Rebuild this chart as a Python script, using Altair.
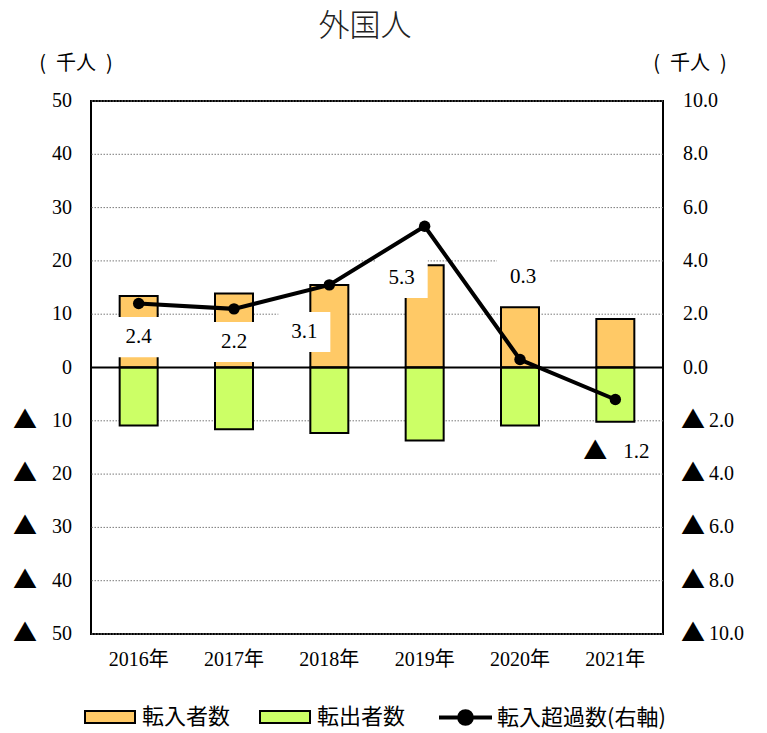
import altair as alt
import pandas as pd

# ---- data ----
years = ["2016年", "2017年", "2018年", "2019年", "2020年", "2021年"]
inflow = [13.4, 13.9, 15.5, 19.2, 11.3, 9.1]      # 転入者数 (千人)
outflow = [10.9, 11.6, 12.3, 13.7, 10.9, 10.2]    # 転出者数 (千人)
net = [2.4, 2.2, 3.1, 5.3, 0.3, -1.2]             # 転入超過数 (千人, 右軸)
left_ticks = [-50, -40, -30, -20, -10, 0, 10, 20, 30, 40, 50]
right_ticks = [-10, -8, -6, -4, -2, 0, 2, 4, 6, 8, 10]
chart_title = "外国人"
unit_text = "(\u2002千人\u2002)"
TRI = "▲"

# label placement (right-axis units) and horizontal nudges in px
label_y = [1.14, 0.96, 1.33, 3.36, 3.39, -3.17]
label_dx = [0, 0, -25, -23, 3, 21]
tri_dx = [0, 0, 0, 0, 0, -20]
label_box = [1, 1, 1, 1, 1, 0]

W, H = 572, 533
FONT = "Liberation Serif, Noto Sans CJK JP"
JFONT = "Noto Sans CJK JP"
HALF = W / 12  # half of a category band

bars_df = pd.DataFrame({
    "year": years * 2,
    "type": ["転入者数"] * 6 + ["転出者数"] * 6,
    "value": inflow + [-v for v in outflow],
})
line_df = pd.DataFrame({"year": years, "net": net, "series": ["転入超過数(右軸)"] * 6})
lab_df = pd.DataFrame({
    "year": years, "net": net, "ly": label_y,
    "off": [d + HALF for d in label_dx],
    "toff": [d + HALF for d in tri_dx],
    "box": label_box,
})
lt_df = pd.DataFrame({"v": left_ticks})
rt_df = pd.DataFrame({"v": right_ticks})
yr_df = pd.DataFrame({"year": years})

x_scale = alt.Scale(paddingInner=0, paddingOuter=0)
lscale = alt.Scale(domain=[-50, 50], nice=False)
rscale = alt.Scale(domain=[-10, 10], nice=False)


def X():
    return alt.X("year:N", sort=years, title=None, scale=x_scale, axis=None)


# ---------- left-scale layer ----------
grid = alt.Chart(lt_df).transform_filter("datum.v != 0").mark_rule(
    color="#7a7a7a", strokeWidth=1, strokeDash=[1.5, 1.5]).encode(
    y=alt.Y("v:Q", scale=lscale, axis=None))

bars = alt.Chart(bars_df).mark_bar(width=38, stroke="black", strokeWidth=2).encode(
    x=X(),
    y=alt.Y("value:Q", scale=lscale, axis=None, stack=None),
    fill=alt.Fill("type:N",
                  scale=alt.Scale(domain=["転入者数", "転出者数"], range=["#FFC966", "#CCFF66"]),
                  legend=alt.Legend(
                      title=None, orient="none", legendX=-7, legendY=590,
                      direction="horizontal", padding=0,
                      symbolType="M-1,-0.24L1,-0.24L1,0.24L-1,0.24Z", symbolSize=2500,
                      symbolStrokeColor="black", symbolStrokeWidth=2,
                      labelFont=JFONT, labelFontSize=22, labelColor="black",
                      labelOffset=6, columnPadding=25, labelLimit=300,
                  )),
)
zero = alt.Chart(lt_df).transform_filter("datum.v == 0").mark_rule(
    color="black", strokeWidth=2).encode(y=alt.Y("v:Q", scale=lscale, axis=None))

left_labels = alt.Chart(lt_df).transform_calculate(
    t="format(abs(datum.v), 'd')"
).mark_text(font=FONT, fontSize=20, color="black", align="right", baseline="middle").encode(
    x=alt.value(-19), y=alt.Y("v:Q", scale=lscale, axis=None), text="t:N")
left_tri = alt.Chart(lt_df).transform_filter("datum.v < 0").transform_calculate(
    t=f"'{TRI}'"
).mark_text(font=JFONT, fontSize=24, color="black", baseline="middle").encode(
    x=alt.value(-66), y=alt.Y("v:Q", scale=lscale, axis=None), text="t:N")

left_layer = alt.layer(grid, bars, zero, left_labels, left_tri)

# ---------- right-scale layer ----------
right_labels = alt.Chart(rt_df).transform_calculate(
    t="format(abs(datum.v), '.1f')", px=f"datum.v < 0 ? {W + 46} : {W + 20}"
).mark_text(font=FONT, fontSize=20, color="black", align="left", baseline="middle").encode(
    x=alt.X("px:Q", scale=None), y=alt.Y("v:Q", scale=rscale, axis=None), text="t:N")
right_tri = alt.Chart(rt_df).transform_filter("datum.v < 0").transform_calculate(
    t=f"'{TRI}'"
).mark_text(font=JFONT, fontSize=24, color="black", baseline="middle").encode(
    x=alt.value(W + 30), y=alt.Y("v:Q", scale=rscale, axis=None), text="t:N")

boxes = alt.Chart(lab_df).transform_filter("datum.box == 1").mark_point(
    shape="M-1,-0.77L1,-0.77L1,0.77L-1,0.77Z", size=2704, filled=True,
    color="white", opacity=1,
).encode(x=X(), y=alt.Y("ly:Q", scale=rscale, axis=None),
         xOffset=alt.XOffset("off:Q", scale=None))
nums = alt.Chart(lab_df).transform_calculate(
    t="format(abs(datum.net), '.1f')"
).mark_text(font=FONT, fontSize=21, color="black", baseline="middle").encode(
    x=X(), y=alt.Y("ly:Q", scale=rscale, axis=None),
    xOffset=alt.XOffset("off:Q", scale=None), text="t:N")
num_tri = alt.Chart(lab_df).transform_filter("datum.net < 0").transform_calculate(
    t=f"'{TRI}'"
).mark_text(font=JFONT, fontSize=24, color="black", baseline="middle").encode(
    x=X(), y=alt.Y("ly:Q", scale=rscale, axis=None),
    xOffset=alt.XOffset("toff:Q", scale=None), text="t:N")

line = alt.Chart(line_df).mark_line(strokeWidth=4).encode(
    x=X(),
    y=alt.Y("net:Q", scale=rscale, axis=None),
    stroke=alt.Stroke("series:N", scale=alt.Scale(range=["black"]),
                      legend=alt.Legend(
                          title=None, orient="none", legendX=346, legendY=588, padding=0,
                          symbolType="M-1,0L1,0M-0.24,0A0.24,0.24 0 1 1 0.24,0A0.24,0.24 0 1 1 -0.24,0Z",
                          symbolSize=2809, symbolStrokeWidth=4, symbolStrokeColor="black",
                          symbolFillColor="black", labelLimit=300,
                          labelFont=JFONT, labelFontSize=22, labelColor="black", labelOffset=3,
                      )),
)
points = alt.Chart(line_df).mark_circle(size=130, color="black", opacity=1).encode(
    x=X(), y=alt.Y("net:Q", scale=rscale, axis=None))

right_layer = alt.layer(right_labels, right_tri, boxes, nums, num_tri, line, points)

# ---------- category labels, title, units ----------
x_labels = alt.Chart(yr_df).mark_text(font=FONT, fontSize=20, color="black",
                                      baseline="middle").encode(
    x=X(), y=alt.value(H + 26), text="year:N")
title = alt.Chart(pd.DataFrame({"t": [chart_title]})).mark_text(
    font=JFONT, fontSize=31, fontWeight=300, color="#222222", baseline="middle").encode(
    text="t:N", x=alt.value(274), y=alt.value(-74))
unit_l = alt.Chart(pd.DataFrame({"t": [unit_text]})).mark_text(
    font=JFONT, fontSize=20, color="black", baseline="middle").encode(
    text="t:N", x=alt.value(-15), y=alt.value(-37))
unit_r = alt.Chart(pd.DataFrame({"t": [unit_text]})).mark_text(
    font=JFONT, fontSize=20, color="black", baseline="middle").encode(
    text="t:N", x=alt.value(W + 27), y=alt.value(-37))

chart = alt.layer(left_layer, right_layer, x_labels, title, unit_l, unit_r).resolve_scale(
    y="independent"
).properties(
    width=W, height=H,
    padding={"left": 83, "top": 93, "right": 90, "bottom": 96},
    autosize=alt.AutoSizeParams(type="none"),
    background="white",
).configure_view(stroke="black", strokeWidth=2)

chart.save("out.html", embed_options={"renderer": "svg", "actions": False})
